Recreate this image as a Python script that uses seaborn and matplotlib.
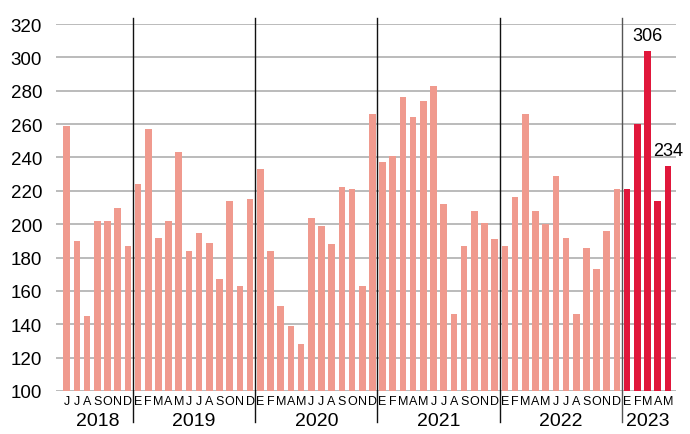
import matplotlib
matplotlib.use("Agg")
import matplotlib.pyplot as plt
import seaborn as sns
import pandas as pd
import numpy as np

# ---- data ----
years = [2018, 2019, 2020, 2021, 2022, 2023]
month_letters = ["E", "F", "M", "A", "M", "J", "J", "A", "S", "O", "N", "D"]
start_month = 6  # June 2018
v2018 = [259, 190, 145, 202, 202, 210, 187]
v2019 = [224, 257, 192, 202, 243, 184, 195, 189, 167, 214, 163, 215]
v2020 = [233, 184, 151, 139, 128, 204, 199, 188, 222, 221, 163, 266]
v2021 = [237, 241, 276, 264, 274, 283, 212, 146, 187, 208, 201, 191]
v2022 = [187, 216, 266, 208, 200, 229, 192, 146, 186, 173, 196, 221]
v2023 = [221, 260, 304, 214, 235]
annot_idx = [2, 4]          # positions within 2023
annot_text = ["306", "234"]

light = "#F09A8E"
red = "#E0173B"

series = [v2018, v2019, v2020, v2021, v2022, v2023]
rows = []
for y, vals in zip(years, series):
    m0 = start_month if y == 2018 else 1
    for k, v in enumerate(vals):
        rows.append({"year": y, "month": m0 + k, "value": v,
                     "grp": "new" if y == 2023 else "old"})
df = pd.DataFrame(rows)
df["pos"] = np.arange(len(df))
df["label"] = [month_letters[m - 1] for m in df["month"]]

plt.rcParams["font.family"] = ["Liberation Sans Narrow", "Liberation Sans", "DejaVu Sans"]
fig = plt.figure(figsize=(6.9, 4.35), dpi=100)
ax = fig.add_axes([56 / 690, 1 - 392 / 435, (675.7 - 56) / 690, (392 - 25) / 435])

sns.barplot(data=df, x="pos", y="value", hue="grp",
            palette={"old": light, "new": red}, dodge=False, saturation=1,
            width=0.65, legend=False, ax=ax, zorder=3)

left = -(66.7 - 56) / 10.19
ax.set_xlim(left, left + (675.7 - 56) / 10.19)
ax.set_ylim(100, 320)
ax.set_yticks(range(100, 321, 20))
ax.yaxis.grid(True, color="#b5b5b5", linewidth=1.3, zorder=0)
ax.set_axisbelow(True)
for s in ax.spines.values():
    s.set_visible(False)
ax.tick_params(axis="y", length=0, labelsize=13.5, pad=10)
ax.tick_params(axis="x", length=0, pad=3)
ax.set_xticks(df["pos"])
ax.set_xticklabels(df["label"], fontsize=9, family=["Liberation Sans", "DejaVu Sans"])
ax.set_xlabel("")
ax.set_ylabel("")

# year dividers and labels
trans = ax.get_xaxis_transform()
h = 392 - 25
bottom_frac = -(423 - 392) / h
top_frac = 1 + (25 - 19) / h
for i, y in enumerate(years):
    sub = df[df["year"] == y]
    center = (sub["pos"].min() + sub["pos"].max()) / 2
    ax.text(center, -(421.5 - 392) / h, str(y), transform=trans,
            ha="center", va="center", fontsize=14)
    if i > 0:
        xd = sub["pos"].min() - 0.5
        ax.plot([xd, xd], [bottom_frac, top_frac], transform=trans,
                color="#555555" if y == 2023 else "#111111",
                linewidth=1.0, clip_on=False, zorder=4)

# annotations
sub23 = df[df["year"] == 2023].reset_index(drop=True)
for k, t in zip(annot_idx, annot_text):
    ax.annotate(t, (sub23.loc[k, "pos"], sub23.loc[k, "value"]),
                xytext=(0, 5), textcoords="offset points",
                ha="center", va="bottom", fontsize=13,
                family=["Liberation Sans", "DejaVu Sans"])

fig.savefig("out.png", dpi=100)
